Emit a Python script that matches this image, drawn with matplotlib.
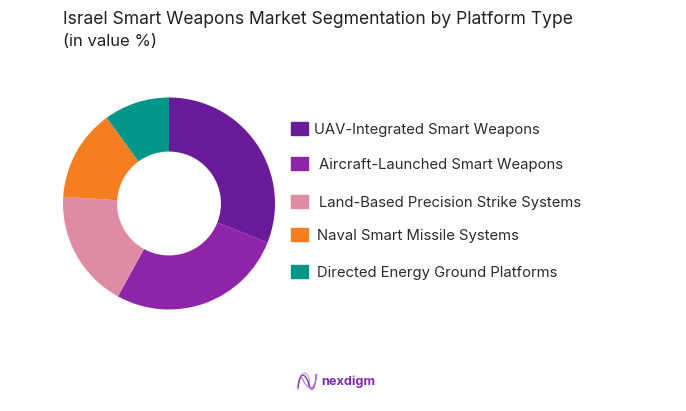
import matplotlib
matplotlib.use("Agg")
import matplotlib.pyplot as plt
from matplotlib.patches import Rectangle, PathPatch
from matplotlib.path import Path

labels = ["UAV-Integrated Smart Weapons", "Aircraft-Launched Smart Weapons",
          "Land-Based Precision Strike Systems", "Naval Smart Missile Systems",
          "Directed Energy Ground Platforms"]
values = [31, 27, 18, 14, 10]
colors = ["#6a1b9a", "#8e24aa", "#e08ba5", "#f57f20", "#009688"]

plt.rcParams["font.family"] = "Inter"
fig = plt.figure(figsize=(6.86, 4.11), dpi=100)

ax = fig.add_axes([0, 0, 1, 1])
ax.set_xlim(0, 686)
ax.set_ylim(411, 0)
ax.axis("off")

pie_ax = fig.add_axes([63 / 686, 1 - 309.5 / 411, 212 / 686, 212 / 411])
pie_ax.pie(values, colors=colors, startangle=90, counterclock=False, radius=1,
           wedgeprops=dict(width=0.51))
pie_ax.set_xlim(-1, 1)
pie_ax.set_ylim(-1, 1)

ax.text(63, 19, "Israel Smart Weapons Market Segmentation by Platform Type", fontsize=12.6, color="#222222", va="center")
ax.text(63, 42, "(in value %)", fontsize=12, color="#222222", va="center")

ys = [129, 164, 202, 235, 272]
xs = [314, 319, 319, 317, 317]
for lab, col, y, x in zip(labels, colors, ys, xs):
    ax.add_patch(Rectangle((291, y - 7), 17, 13, color=col))
    ax.text(x, y + 0.5, lab, fontsize=10.7, color="#2b2b2b", va="center")

# logo
codes = [Path.MOVETO, Path.CURVE4, Path.CURVE4, Path.CURVE4]
for verts, col in [([(298, 390), (298, 366), (310, 372), (309, 381)], "#c9a3e0"),
                   ([(309, 381), (308, 392), (316, 394), (316, 374)], "#8e3fc0"),
                   ([(298, 388), (300, 370), (306, 372), (310, 388)], "#7b2cbf"),
                   ([(301, 376), (306, 388), (314, 396), (317, 374)], "#b57edc")]:
    ax.add_patch(PathPatch(Path(verts, codes), fill=False, edgecolor=col, linewidth=0.9))
ax.text(321, 382, "nexdigm", fontsize=9.2, fontweight="bold", color="#7b2cbf", va="center")

fig.savefig("out.png", dpi=100)
